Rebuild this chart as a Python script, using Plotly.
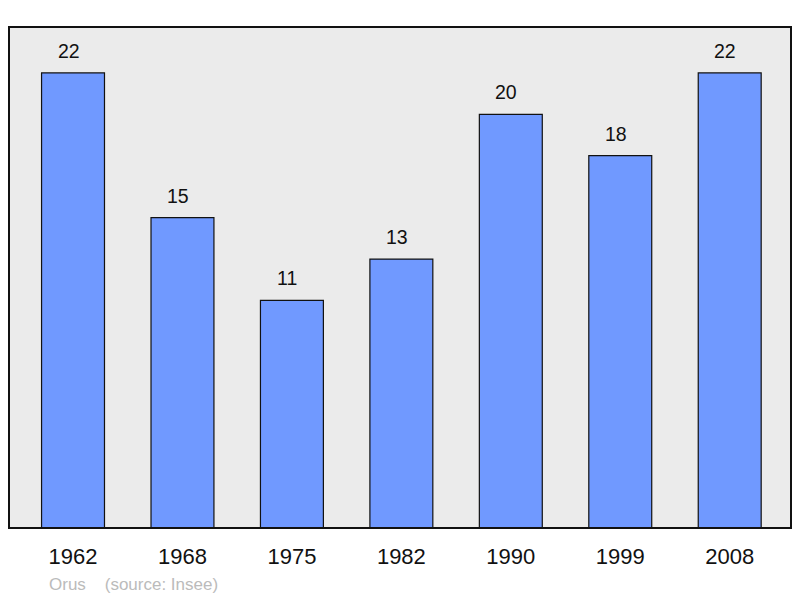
import plotly.graph_objects as go

years = ["1962", "1968", "1975", "1982", "1990", "1999", "2008"]
values = [22, 15, 11, 13, 20, 18, 22]

W, H = 800, 598
ml, mr, mt, mb = 9, 9, 27, 70

xs = list(range(len(years)))
fig = go.Figure()
fig.add_trace(go.Bar(
    x=xs, y=values, width=0.575,
    marker=dict(color="#7099ff", line=dict(color="#111111", width=1.2)),
    hoverinfo="skip",
))
for x, v in zip(xs, values):
    fig.add_annotation(x=x, y=v, text=str(v), showarrow=False,
                       yanchor="bottom", yshift=9, xshift=-4.5,
                       font=dict(family="Liberation Sans, Arial", size=19.5, color="#111111"))
fig.add_annotation(xref="paper", yref="paper", x=(47 - ml) / (W - ml - mr), y=-(584 - (H - mb)) / (H - mt - mb),
                   xanchor="left", yanchor="middle", showarrow=False,
                   text="Orus&nbsp;&nbsp;&nbsp;&nbsp;(source: Insee)",
                   font=dict(family="Liberation Sans, Arial", size=17, color="#bbbbbb"))
fig.add_shape(type="rect", xref="paper", yref="paper", x0=0, x1=1, y0=0, y1=1,
              line=dict(color="#111111", width=2), layer="above")
fig.update_layout(
    width=W, height=H,
    margin=dict(l=ml, r=mr, t=mt, b=mb, pad=0),
    paper_bgcolor="white", plot_bgcolor="#ebebeb",
    showlegend=False,
    xaxis=dict(range=[-0.585, 6.56], tickmode="array", tickvals=xs, ticktext=years,
               showgrid=False, zeroline=False, ticks="outside", ticklen=9, tickcolor="rgba(0,0,0,0)",
               tickfont=dict(family="Liberation Sans, Arial", size=22, color="#111111"), fixedrange=True),
    yaxis=dict(range=[0, 24.22], showgrid=False, zeroline=False, showticklabels=False, fixedrange=True),
)
fig.write_html("out.html", config={"displayModeBar": False},
               post_script="document.body.style.margin='0';")
